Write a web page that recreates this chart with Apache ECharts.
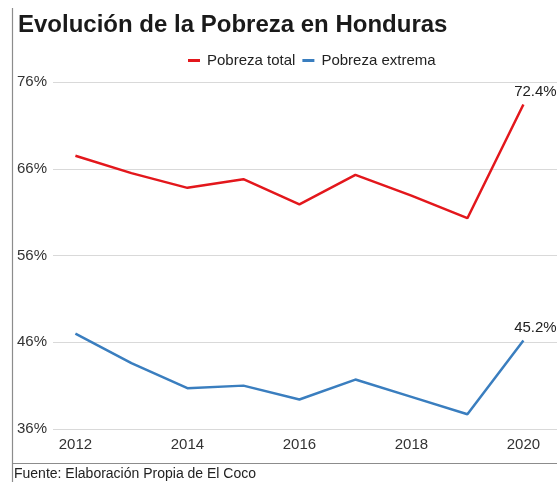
<!DOCTYPE html>
<html>
<head>
<meta charset="utf-8">
<script src="https://cdn.jsdelivr.net/npm/echarts@6/dist/echarts.min.js"></script>
<style>
  html, body { margin: 0; padding: 0; background: #fff; }
  #container { width: 557px; height: 482px; }
</style>
</head>
<body>
<div id="container"></div>
<script>
// data
var years = [2012, 2013, 2014, 2015, 2016, 2017, 2018, 2019, 2020];
var pobrezaTotal = [66.5, 64.5, 62.8, 63.8, 60.9, 64.3, 61.9, 59.3, 72.4];
var pobrezaExtrema = [46.0, 42.6, 39.7, 40.0, 38.4, 40.7, 38.7, 36.7, 45.2];
var xTickValues = [2012, 2014, 2016, 2018, 2020];
var yTickLabels = ['36%', '46%', '56%', '66%', '76%'];

var yMin = 35;
var yStep = 10;

function toPoints(values) {
    var _pts = [];
    values.forEach(function (v, i) {
        var item = { value: [years[i], v] };
        // only the last year gets a label
        if (i === values.length - 1) {
            item.label = { show: true };
        }
        _pts.push(item);
    });
    return _pts;
}

var dom = document.getElementById('container');
var myChart = echarts.init(dom, null, { renderer: 'canvas' });
var option;

var endLabel = {
    show: false,
    position: 'top',
    distance: 5,
    offset: [12, 0],
    fontSize: 15,
    color: '#222',
    fontFamily: 'Liberation Sans',
    formatter: function (p) { return p.value[1].toFixed(1) + '%'; }
};

option = {
    backgroundColor: '#fff',
    animation: false,
    textStyle: { fontFamily: 'Liberation Sans' },
    title: {
        text: 'Evolución de la Pobreza en Honduras',
        left: 13,
        top: 8,
        textStyle: { fontSize: 24, fontWeight: 'bold', color: '#1a1a1a', fontFamily: 'Liberation Sans' }
    },
    legend: {
        left: 183,
        top: 48,
        icon: 'rect',
        itemWidth: 12,
        itemHeight: 3,
        itemGap: 7,
        textStyle: { fontSize: 15, color: '#222', padding: [0, 0, 0, 2] },
        data: ['Pobreza total', 'Pobreza extrema']
    },
    grid: { left: 53, right: 0, top: 82, bottom: 53 },
    xAxis: {
        type: 'value',
        min: 2011.6,
        max: 2020.6,
        splitLine: { show: false },
        axisLine: { show: false },
        axisTick: { show: false },
        axisLabel: {
            customValues: xTickValues,
            margin: 8,
            fontSize: 15,
            color: '#333',
            formatter: function (v) { return String(v); }
        }
    },
    yAxis: {
        type: 'value',
        min: yMin,
        max: 75,
        interval: yStep,
        axisLine: { show: false },
        axisTick: { show: false },
        splitLine: { lineStyle: { color: '#d9d9d9', width: 1 } },
        axisLabel: {
            margin: 6,
            fontSize: 15,
            color: '#333',
            formatter: function (v) { return yTickLabels[Math.round((v - yMin) / yStep)]; }
        }
    },
    graphic: [
        {
            type: 'line',
            shape: { x1: 12.5, y1: 8, x2: 12.5, y2: 482 },
            style: { stroke: '#8c8c8c', lineWidth: 1.2 }
        },
        {
            type: 'line',
            shape: { x1: 12, y1: 463.5, x2: 557, y2: 463.5 },
            style: { stroke: '#8c8c8c', lineWidth: 1.2 }
        },
        {
            type: 'text',
            left: 14,
            top: 467,
            style: { text: 'Fuente: Elaboración Propia de El Coco', fontSize: 14, fill: '#222', fontFamily: 'Liberation Sans' }
        }
    ],
    series: [
        {
            name: 'Pobreza total',
            type: 'line',
            showSymbol: true,
            symbol: 'circle',
            symbolSize: 0,
            color: '#e3171c',
            lineStyle: { width: 2.5, color: '#e3171c' },
            label: endLabel,
            data: toPoints(pobrezaTotal)
        },
        {
            name: 'Pobreza extrema',
            type: 'line',
            showSymbol: true,
            symbol: 'circle',
            symbolSize: 0,
            color: '#3a7ebf',
            lineStyle: { width: 2.5, color: '#3a7ebf' },
            label: endLabel,
            data: toPoints(pobrezaExtrema)
        }
    ]
};

if (option && typeof option === 'object') {
    myChart.setOption(option);
}

window.addEventListener('resize', myChart.resize);
</script>
</body>
</html>
